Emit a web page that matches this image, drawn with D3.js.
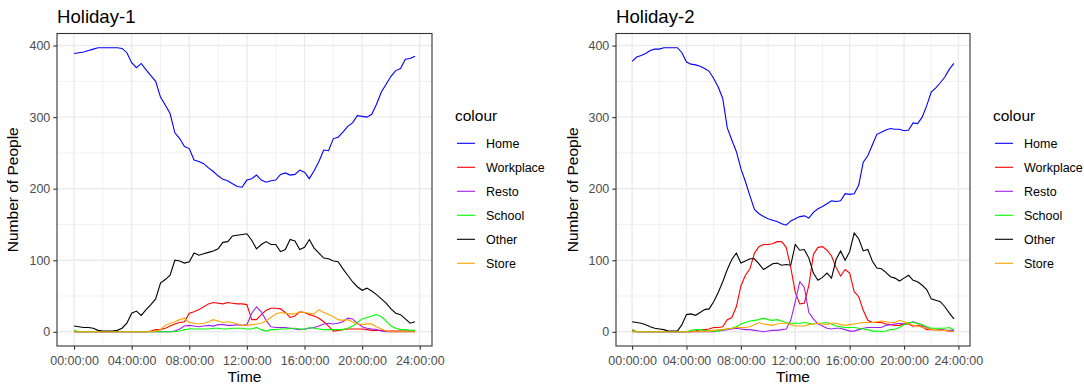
<!DOCTYPE html>
<html lang="en">
<head>
<meta charset="UTF-8">
<title>Holiday</title>
<script src="https://cdn.jsdelivr.net/npm/d3@7"></script>
<style>
*{margin:0; padding:0;}
body{background:#fff;}
svg text{font-family:"Liberation Sans", Arial, sans-serif;}
</style>
</head>
<body>
<script>
// time grid: one reading every 20 minutes, 00:00 to 23:40
var hours = d3.range(72).map(function(i){ return i / 3; });
var xTicks = [0, 4, 8, 12, 16, 20, 24];
var yTicks = [0, 100, 200, 300, 400];
var places = ["Home", "Workplace", "Resto", "School", "Other", "Store"];
var colours = ["blue", "red", "#A020F0", "#00FF00", "black", "orange"];

// Holiday-1
var h1Home = [389,390,391,393,395,397,397,397,397,397,396,390,
	376,369,375,366,358,350, 328,317,305,278,270,259, 256,240,238,235,229,224,
	218,213,211,207,203,202, 212,214,219,212,209,211, 212,220,222,219,220,226,
	223,214,225,238,254,253, 270,272,279,287,292,302, 301,300,304,318,335,346,
	357,365,368,381,382,385];
var h1Workplace = [0,0,0,0,0,0,0,0,0,0,0,0,
	0,0,0,0,1,3, 3,5,8,11,13,14, 26,28,31,35,39,41,
	40,39,41,40,39,39, 38,17,17,24,30,33, 33,32,27,20,22,28,
	27,24,22,19,14,8, 1,2,3,4,4,4, 4,3,2,2,2,1,
	1,1,1,1,1,0];
var h1Resto = [0,0,0,0,0,0,0,0,0,0,0,0,
	0,0,0,0,0,0, 0,0,0,1,4,8, 9,8,7,8,9,8,
	10,10,9,9,10,9, 10,26,35,28,16,7, 6,6,6,5,4,3,
	4,5,6,8,11,12, 11,12,14,19,18,12, 7,5,4,3,1,0,
	0,0,0,0,0,0];
var h1School = [2,0,0,0,0,0,0,0,0,0,0,0,
	0,0,0,0,0,0, 0,0,0,0,1,3, 4,4,4,4,4,5,
	5,4,4,5,5,5, 4,4,6,3,1,3, 3,4,4,5,5,4,
	3,6,5,4,3,3, 3,3,3,5,8,13, 18,20,22,24,21,15,
	8,5,3,3,2,2];
var h1Other = [8,7,6,6,5,2,1,1,1,2,5,12,
	26,29,23,31,38,46, 68,73,79,100,99,96, 98,110,107,109,111,113,
	116,125,126,134,135,136, 137,128,116,122,126,122, 122,112,115,129,127,115,
	118,129,117,110,103,102, 99,98,88,79,70,63, 58,61,57,52,46,40,
	32,26,24,18,12,14];
var h1Store = [0,0,0,0,0,0,0,0,0,0,0,0,
	0,0,0,0,0,1, 3,9,12,14,17,19, 13,12,11,12,14,17,
	15,13,14,13,11,9, 9,10,11,12,15,20, 25,27,26,25,25,28,
	27,26,25,31,27,24, 21,17,16,17,14,11, 10,11,11,7,4,1,
	0,0,0,0,0,0];

// Holiday-2
var h2Home = [378,384,386,389,393,395,395,397,397,397,397,390,
	377,374,373,371,368,364, 354,342,326,285,268,252, 228,210,190,171,165,161,
	158,156,154,151,149,155, 158,161,162,159,167,172, 175,179,183,182,183,193,
	192,193,205,237,246,261, 276,279,282,284,283,283, 281,282,292,291,300,316,
	335,341,348,356,367,375];
var h2Workplace = [3,0,0,0,0,0,0,0,0,0,0,0,
	0,0,1,3,3,4, 6,6,7,17,20,35, 64,79,88,110,119,122,
	122,123,126,126,118,90, 55,39,40,65,108,118, 119,114,106,90,78,87,
	82,56,49,30,16,13, 13,13,11,10,9,9, 11,11,8,9,7,3,
	3,3,3,2,1,1];
var h2Resto = [0,0,0,0,0,0,0,0,0,0,0,0,
	0,0,0,0,0,0, 0,1,2,3,4,5, 4,3,3,2,1,0,
	1,2,2,3,4,16, 42,70,62,27,18,11, 8,5,4,5,5,3,
	1,1,3,5,6,6, 6,6,9,10,11,12, 11,12,14,12,9,6,
	4,3,3,2,2,2];
var h2School = [2,0,0,0,0,0,0,0,0,0,0,0,
	0,2,3,3,2,1, 1,1,3,4,5,7, 11,13,15,16,17,19,
	17,16,17,15,13,12, 12,12,13,12,11,12, 12,13,11,8,7,6,
	6,6,5,4,3,1, 1,0,1,3,4,6, 10,13,13,12,10,7,
	5,5,5,5,6,3];
var h2Other = [14,13,12,10,7,5,4,3,1,1,1,10,
	24,25,23,27,31,32, 42,55,70,87,101,110, 96,99,102,102,95,87,
	91,95,96,93,94,93, 122,114,115,103,82,72, 76,82,75,101,113,100,
	112,138,130,113,115,99, 89,88,83,77,75,71, 75,79,72,70,65,59,
	46,44,42,35,26,18];
var h2Store = [0,0,0,0,0,0,0,0,0,0,0,0,
	0,0,0,0,1,1, 2,3,3,4,5,6, 6,6,7,10,13,11,
	10,9,11,12,12,10, 8,8,8,10,11,12, 11,10,12,12,10,9,
	10,11,12,13,13,13, 14,15,14,13,13,16, 14,12,9,8,6,5,
	3,3,2,2,1,0];

var width = 1084, height = 385;
var svg = d3.select("body").append("svg")
	.attr("width", width)
	.attr("height", height);

function pad(n){ return (n < 10 ? "0" : "") + n; }

function drawPanel(title, series, left, right, labelX){
	var top = 33.5, bottom = 346;
	var allY = [].concat.apply([], series);
	var xe = d3.extent(hours), ye = d3.extent(allY);
	var xp = (xe[1] - xe[0]) * 0.05, yp = (ye[1] - ye[0]) * 0.05;

	var x = d3.scaleLinear().domain([xe[0] - xp, xe[1] + xp]).range([left, right]);
	var y = d3.scaleLinear().domain([ye[0] - yp, ye[1] + yp]).range([bottom, top]);

	var g = svg.append("g");

	// minor grid
	g.selectAll(".xminor").data([2, 6, 10, 14, 18, 22]).enter().append("line")
		.attr("x1", x).attr("x2", x).attr("y1", top).attr("y2", bottom)
		.attr("stroke", "#EBEBEB").attr("stroke-width", 0.7);
	g.selectAll(".yminor").data([50, 150, 250, 350]).enter().append("line")
		.attr("x1", left).attr("x2", right).attr("y1", y).attr("y2", y)
		.attr("stroke", "#EBEBEB").attr("stroke-width", 0.7);
	// major grid
	g.selectAll(".xmajor").data(xTicks).enter().append("line")
		.attr("x1", x).attr("x2", x).attr("y1", top).attr("y2", bottom)
		.attr("stroke", "#EBEBEB").attr("stroke-width", 1.4);
	g.selectAll(".ymajor").data(yTicks).enter().append("line")
		.attr("x1", left).attr("x2", right).attr("y1", y).attr("y2", y)
		.attr("stroke", "#EBEBEB").attr("stroke-width", 1.4);

	var line = d3.line()
		.x(function(d, i){ return x(hours[i]); })
		.y(function(d){ return y(d); });

	g.selectAll(".series").data(series).enter().append("path")
		.attr("d", line)
		.attr("fill", "none")
		.attr("stroke", function(d, i){ return colours[i]; })
		.attr("stroke-width", 1.1);

	// axes
	var xAxis = d3.axisBottom(x).tickValues(xTicks)
		.tickFormat(function(d){ return pad(d) + ":00:00"; })
		.tickSize(3.7).tickPadding(3);
	var yAxis = d3.axisLeft(y).tickValues(yTicks).tickSize(3.7).tickPadding(3);

	var xa = g.append("g").attr("transform", "translate(0," + bottom + ")").call(xAxis);
	var ya = g.append("g").attr("transform", "translate(" + left + ",0)").call(yAxis);
	[xa, ya].forEach(function(a){
		a.select(".domain").remove();
		a.selectAll(".tick line").attr("stroke", "#333333").attr("stroke-width", 1.1);
		a.selectAll(".tick text").attr("fill", "#4D4D4D")
			.style("font-size", "12.5px");
	});
	xa.selectAll(".tick text").attr("dy", "0.95em");

	g.append("rect")
		.attr("x", left).attr("y", top)
		.attr("width", right - left).attr("height", bottom - top)
		.attr("fill", "none").attr("stroke", "#333333").attr("stroke-width", 1.1);

	g.append("text").text(title)
		.attr("x", left).attr("y", 22.5)
		.style("font-size", "18.6px").attr("fill", "#000");
	g.append("text").text("Time")
		.attr("x", (left + right) / 2).attr("y", 382)
		.attr("text-anchor", "middle")
		.style("font-size", "15.5px").attr("fill", "#000");
	g.append("text").text("Number of People")
		.attr("transform", "translate(" + (labelX + 5.5) + "," + ((top + bottom) / 2) + ") rotate(-90)")
		.attr("text-anchor", "middle")
		.style("font-size", "15.5px").attr("fill", "#000");

	// legend
	var lg = g.append("g").attr("transform", "translate(" + (right + 23) + ",0)");
	lg.append("text").text("colour")
		.attr("x", 0).attr("y", 120.5)
		.style("font-size", "15.5px").attr("fill", "#000");
	var rows = lg.selectAll(".key").data(places).enter().append("g")
		.attr("transform", function(d, i){ return "translate(0," + (143.3 + i * 24) + ")"; });
	rows.append("line")
		.attr("x1", 2).attr("x2", 20)
		.attr("stroke", function(d, i){ return colours[i]; })
		.attr("stroke-width", 1.1);
	rows.append("text").text(function(d){ return d; })
		.attr("x", 31).attr("y", 4.4)
		.style("font-size", "12.5px").attr("fill", "#000");
}

drawPanel("Holiday-1",
	[h1Home, h1Workplace, h1Resto, h1School, h1Other, h1Store], 57, 432, 12);
drawPanel("Holiday-2",
	[h2Home, h2Workplace, h2Resto, h2School, h2Other, h2Store], 616, 970, 572);
</script>
</body>
</html>
